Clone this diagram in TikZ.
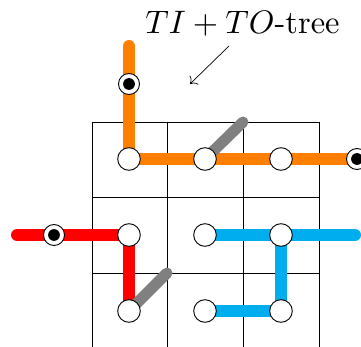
\documentclass[tikz,border=0pt]{standalone}
\usetikzlibrary{backgrounds,arrows.meta}
\definecolor{torange}{RGB}{255,128,0}
\definecolor{tred}{RGB}{255,0,0}
\definecolor{tblue}{RGB}{0,174,239}
\definecolor{tgray}{RGB}{128,128,128}
\tikzset{
  vtx/.style={circle,draw=black,fill=white,line width=0.9pt,minimum size=22.6pt,inner sep=0pt},
  dotvtx/.style={vtx,minimum size=21pt,path picture={\fill[black] (path picture bounding box.center) circle (5.9pt);}},
  gridline/.style={black,line width=0.8pt},
  edge/.style={line width=12pt,line cap=round,line join=round},
  pointer/.style={-{To[scale=1.9]},line width=0.7pt}
}
\begin{document}
\begin{tikzpicture}[x=1pt,y=-1pt]
\useasboundingbox (0,0) rectangle (361,347);
% nodes
\node[dotvtx] (ot) at (129,84) {};
\node[vtx] (a1) at (129,159) {};
\node[vtx] (a2) at (205,159) {};
\node[vtx] (a3) at (281,159) {};
\node[dotvtx] (a4) at (357,159) {};
\node[dotvtx] (rl) at (54,235) {};
\node[vtx] (b1) at (129,235) {};
\node[vtx] (b2) at (205,235) {};
\node[vtx] (b3) at (281,235) {};
\node[vtx] (c1) at (129,311) {};
\node[vtx] (c2) at (205,311) {};
\node[vtx] (c3) at (281,311) {};
\coordinate (otop) at (129,46);
\coordinate (rend) at (17,235);
\coordinate (bend) at (355,235);
\coordinate (g1) at (243,122);
\coordinate (g2) at (167,273);
% label
\node[scale=3.25,anchor=base,inner sep=0pt] (lab) at (242.5,33.3) {$TI+TO$-tree};
\coordinate (ps) at (229,46);
\coordinate (pe) at (190,84);
\draw[pointer] (ps) -- (pe);
\begin{scope}[on background layer]
  % grid
  \foreach \x in {92,167,243,319} \draw[gridline] (\x,122) -- (\x,347);
  \foreach \y in {122,197,273} \draw[gridline] (92,\y) -- (319,\y);
  % edges
  \draw[edge,torange] (otop) -- (ot.center) -- (a1.center) -- (a2.center) -- (a3.center) -- (a4.center);
  \draw[edge,tgray,line width=11pt] (a2.center) -- (g1);
  \draw[edge,tred] (rend) -- (rl.center) -- (b1.center) -- (c1.center);
  \draw[edge,tgray,line width=11pt] (c1.center) -- (g2);
  \draw[edge,tblue] (b2.center) -- (b3.center) -- (bend);
  \draw[edge,tblue] (b3.center) -- (c3.center) -- (c2.center);
\end{scope}
\end{tikzpicture}
\end{document}
